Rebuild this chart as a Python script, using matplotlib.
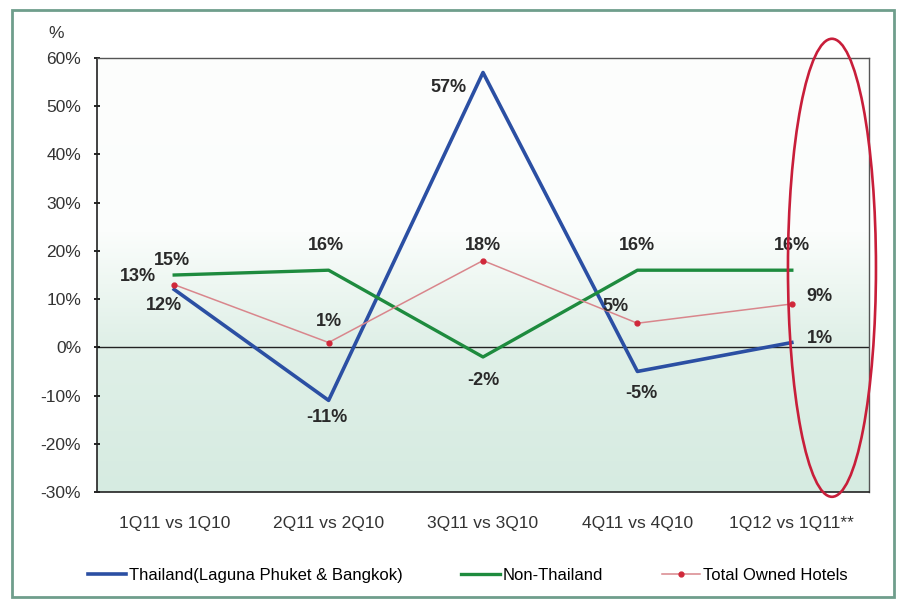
import numpy as np
import matplotlib.pyplot as plt
from matplotlib.colors import LinearSegmentedColormap
from matplotlib.patches import Ellipse, Rectangle

plt.rcParams['font.family'] = ['Liberation Sans', 'DejaVu Sans']

categories = ['1Q11 vs 1Q10', '2Q11 vs 2Q10', '3Q11 vs 3Q10', '4Q11 vs 4Q10', '1Q12 vs 1Q11**']
thailand = [12, -11, 57, -5, 1]
non_thailand = [15, 16, -2, 16, 16]
total_owned = [13, 1, 18, 5, 9]
yticks = [-30, -20, -10, 0, 10, 20, 30, 40, 50, 60]

# label offsets in pixels (dx, dy) for each series
thai_off = [(-10, -16), (-2, -17), (-35, -15), (4, -22), (28, 4)]
non_off = [(-2, 15), (-3, 25), (0, -24), (0, 25), (0, 25)]
tot_off = [(-36, 8), (0, 21), (0, 15), (-22, 17), (28, 7)]

fig = plt.figure(figsize=(9.04, 6.01), dpi=100)
ax = fig.add_axes([0.1073, 0.1814, 0.854, 0.722])

x = np.arange(len(categories))
ax.set_xlim(-0.5, len(categories) - 0.5)
ax.set_ylim(-30, 60)

# background gradient, white on top to pale green at bottom
cmap = LinearSegmentedColormap.from_list('bg', [(0, '#d6ebe1'), (0.35, '#e0f0e8'), (0.48, '#eef7f2'), (0.6, '#fbfdfc'), (1, '#fdfefd')])
grad = np.linspace(0, 1, 256).reshape(-1, 1)
ax.imshow(grad, cmap=cmap, aspect='auto', origin='lower',
          extent=[-0.5, len(categories) - 0.5, -30, 60], zorder=0)

ax.axhline(0, color='#222222', lw=1.0, zorder=1)

ax.plot(x, thailand, color='#2b4fa3', lw=2.6, zorder=3, label='Thailand(Laguna Phuket & Bangkok)')
ax.plot(x, non_thailand, color='#1e8b3e', lw=2.4, zorder=3, label='Non-Thailand')
ax.plot(x, total_owned, color='#d9868c', lw=1.1, marker='o', ms=3.5,
        mfc='#d0283a', mec='#d0283a', zorder=4, label='Total Owned Hotels')

for vals, offs in [(thailand, thai_off), (non_thailand, non_off), (total_owned, tot_off)]:
    for i, (v, o) in enumerate(zip(vals, offs)):
        ax.annotate(f'{v}%', (i, v), xytext=o, textcoords='offset pixels',
                    ha='center', va='center', fontsize=13, fontweight='bold',
                    color='#2a2a2a', zorder=5)

ax.set_xticks(x)
ax.set_xticklabels(categories, fontsize=12.5, color='#333333')
ax.tick_params(axis='x', length=0, pad=17)
ax.set_yticks(yticks)
ax.set_yticklabels([f'{t}%' for t in yticks], fontsize=12.5, color='#333333')
ax.tick_params(axis='y', direction='inout', length=5, width=1.2, pad=9)

for s in ['left', 'bottom']:
    ax.spines[s].set_color('#222222')
    ax.spines[s].set_linewidth(1.2)
for s in ['top', 'right']:
    ax.spines[s].set_color('#555555')
    ax.spines[s].set_linewidth(1.0)

fig.text(56 / 904, 1 - 34 / 601, '%', fontsize=12.5, color='#333333', ha='center', va='center')

# red ellipse highlighting the last period
last = len(categories) - 1
ax.add_patch(Ellipse((last + 0.26, 16.5), 0.57, 95, fill=False, ec='#c81e3a',
                     lw=1.9, clip_on=False, zorder=6))

fig.legend(loc='center left', bbox_to_anchor=(0.097, 0.043), ncol=3, frameon=False,
           fontsize=12, handlelength=2.3, handletextpad=0.2, columnspacing=3.5,
           borderpad=0, borderaxespad=0)

# outer frame
fig.patches.append(Rectangle((12 / 904, 4 / 601), 882 / 904, 587 / 601, transform=fig.transFigure,
                             fill=False, ec='#6f9e8c', lw=2.0))

fig.savefig('out.png', dpi=100)
